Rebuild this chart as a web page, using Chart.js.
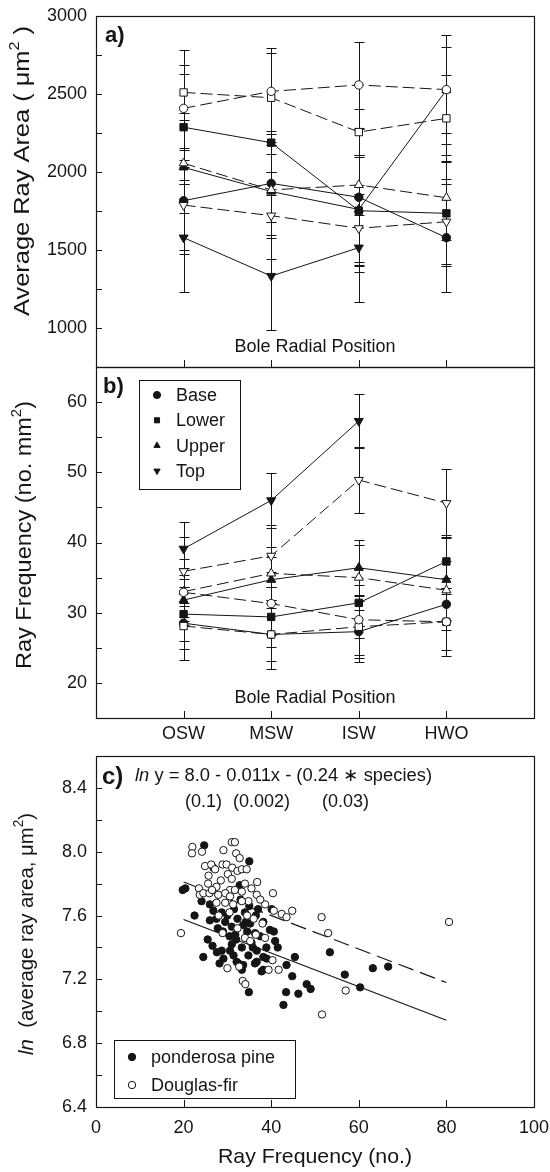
<!DOCTYPE html>
<html><head><meta charset="utf-8">
<script src="https://cdn.jsdelivr.net/npm/chart.js@4.4.1/dist/chart.umd.min.js"></script>
<style>
html,body{margin:0;padding:0;background:#fff;width:550px;height:1172px;overflow:hidden;}
.wrap{position:absolute;left:0;width:550px;}
canvas{display:block;}
</style></head><body>
<div class="wrap" style="top:0;height:369px"><canvas id="ca" width="550" height="369"></canvas></div>
<div class="wrap" style="top:355px;height:395px"><canvas id="cb" width="550" height="395"></canvas></div>
<div class="wrap" style="top:740px;height:432px"><canvas id="cc" width="550" height="432"></canvas></div>
<script>
// ---------- DATA ----------
const categories = ['OSW', 'MSW', 'ISW', 'HWO'];
const groups = ['Base', 'Lower', 'Upper', 'Top'];
const species = ['ponderosa pine', 'Douglas-fir'];

// Panel a: average ray area (µm²); pine = filled/solid, fir = open/dashed
const areaBasePine  = [1816, 1927, 1838, 1579];
const areaLowerPine = [2287, 2188, 1752, 1735];
const areaUpperPine = [2030, 1875, 1760, 2525];
const areaTopPine   = [1579, 1333, 1515, null];
const areaBaseFir   = [2408, 2517, 2558, 2528];
const areaLowerFir  = [2510, 2476, 2256, 2344];
const areaUpperFir  = [2056, 1885, 1917, 1835];
const areaTopFir    = [1788, 1720, 1639, 1681];
const areaBasePineErr  = [340, 75, 435, 346];
const areaLowerPineErr = [340, 75, 357, 338];
const areaUpperPineErr = [110, 296, 335, 278];
const areaTopPineErr   = [346, 346, 346, null];
const areaBaseFirErr   = [375, 276, 278, 350];
const areaLowerFirErr  = [175, 284, 150, 278];
const areaUpperFirErr  = [320, 289, 190, 273];
const areaTopFirErr    = [290, 278, 278, 272];

// Panel b: ray frequency (no. mm²)
const freqBasePine  = [28.5, 26.9, 27.3, 31.2];
const freqLowerPine = [29.8, 29.4, 31.4, 37.3];
const freqUpperPine = [31.8, 34.7, 36.4, 34.7];
const freqTopPine   = [39.1, 46.0, 57.3, null];
const freqBaseFir   = [32.9, 31.3, 29.0, 28.7];
const freqLowerFir  = [28.1, 26.9, 28.0, 28.7];
const freqUpperFir  = [33.0, 35.6, 35.0, 33.2];
const freqTopFir    = [35.9, 38.1, 48.9, 45.6];
const freqBasePineErr  = [5.2, 4.9, 4.3, 3.7];
const freqLowerPineErr = [3.8, 4.3, 5.0, 3.8];
const freqUpperPineErr = [3.0, 3.3, 3.9, 5.9];
const freqTopPineErr   = [3.8, 3.9, 3.8, null];
const freqBaseFirErr   = [3.5, 4.5, 5.0, 4.0];
const freqLowerFirErr  = [3.3, 3.8, 4.4, 4.8];
const freqUpperFirErr  = [4.7, 3.8, 4.6, 4.2];
const freqTopFirErr    = [4.9, 4.4, 4.7, 4.8];

// Panel c: scatter of ln(average ray area) vs ray frequency
const pineFreq = [24.7,35.0,26.8,32.8,19.8,20.4,24.1,26.0,22.5,26.8,28.7,40.1,26.0,27.5,29.5,31.0,32.3,33.6,35.2,36.3,38.2,39.7,40.6,26.6,28.7,31.0,33.3,34.8,36.7,38.9,40.9,24.5,29.1,32.1,33.6,36.7,38.2,43.5,45.4,44.8,34.9,43.4,46.2,48.1,49.0,42.8,53.4,56.8,60.3,63.2,66.7,27.6,31.4,32.5,33.3,36.3,37.8,38.2,30.5,32.0,34.5,35.5,37.5,30.0,34.0,36.5,25.5,29.0,33.0,35.0,31.5,37.0,30.6,27.8,35.8,39.0,31.8,41.5,28.2,34.2];
const pineLnArea = [8.04,7.94,7.90,7.79,7.76,7.77,7.69,7.67,7.60,7.63,7.62,7.64,7.57,7.58,7.56,7.53,7.58,7.54,7.55,7.49,7.56,7.51,7.50,7.41,7.38,7.42,7.40,7.35,7.38,7.40,7.44,7.34,7.33,7.31,7.29,7.31,7.26,7.29,7.34,7.22,7.12,7.12,7.11,7.17,7.14,7.04,7.37,7.23,7.15,7.27,7.28,7.37,7.35,7.30,7.26,7.30,7.25,7.34,7.47,7.45,7.50,7.43,7.47,7.60,7.62,7.60,7.45,7.50,7.70,7.66,7.64,7.64,7.38,7.52,7.40,7.33,7.48,7.40,7.30,7.56];
const firFreq = [22.0,21.9,24.2,29.1,31.0,31.7,32.0,32.8,24.9,26.3,27.2,28.9,29.8,30.1,31.1,32.3,33.3,34.4,25.7,36.8,25.6,27.5,23.5,30.6,23.7,24.5,25.9,27.9,29.5,30.6,31.7,33.3,34.8,36.7,40.4,27.5,29.5,31.3,33.3,38.6,40.6,42.4,43.5,44.8,51.5,53.0,19.4,80.6,28.9,32.3,34.0,35.2,36.5,38.6,30.0,32.7,39.4,41.7,40.3,33.5,34.1,57.0,51.6,30.5,34.5,36.0,28.0,38.0,31.0,28.5,34.0,26.5,35.5,37.5];
const firLnArea = [8.03,7.99,8.00,8.01,8.06,8.06,7.99,7.96,7.91,7.92,7.89,7.92,7.92,7.86,7.90,7.88,7.89,7.89,7.85,7.81,7.80,7.78,7.77,7.76,7.73,7.74,7.74,7.73,7.74,7.72,7.76,7.75,7.69,7.73,7.74,7.68,7.68,7.67,7.69,7.67,7.63,7.61,7.59,7.63,7.59,7.49,7.49,7.56,7.49,7.52,7.46,7.44,7.48,7.46,7.27,7.28,7.26,7.26,7.32,7.19,7.17,7.13,6.98,7.62,7.60,7.58,7.60,7.55,7.83,7.82,7.80,7.76,7.77,7.70];
const fitFreq = [20, 80];
const fitPine = [7.575, 6.944];
const fitFir  = [7.81, 7.18];

// ---------- STYLE ----------
const INK = '#151515';
Chart.defaults.font.family = "'Liberation Sans', Arial, sans-serif";
Chart.defaults.font.size = 18;
Chart.defaults.color = INK;
const F = (s, w, st) => (st ? st + ' ' : '') + (w ? w + ' ' : '') + s + "px 'Liberation Sans', Arial, sans-serif";
const marker = {
  Base:  {style: 'circle',   rot: 0,   r: 4.2},
  Lower: {style: 'rect',     rot: 0,   r: 5.2},
  Upper: {style: 'triangle', rot: 0,   r: 5.2},
  Top:   {style: 'triangle', rot: 180, r: 5.2}
};

function series(values, errors, group, filled) {
  const m = marker[group];
  return {
    label: group + ' ' + (filled ? species[0] : species[1]),
    data: values.map((v, i) => ({x: i + 1, y: v})),
    errors: errors,
    borderColor: INK, borderWidth: 1, borderDash: filled ? [] : [12, 5],
    pointStyle: m.style, pointRotation: m.rot, pointRadius: m.r,
    pointBackgroundColor: filled ? INK : '#fff', pointBorderColor: INK, pointBorderWidth: 1,
    tension: 0, spanGaps: false, fill: false, order: filled ? 2 : 1
  };
}

const errorBars = {
  id: 'errbars',
  beforeDatasetsDraw(chart) {
    const ctx = chart.ctx, xs = chart.scales.x, ys = chart.scales.y;
    ctx.save(); ctx.strokeStyle = INK; ctx.lineWidth = 1; ctx.setLineDash([]);
    chart.data.datasets.forEach(ds => {
      if (!ds.errors) return;
      ds.data.forEach((p, i) => {
        const e = ds.errors[i];
        if (p.y == null || e == null) return;
        const x = Math.round(xs.getPixelForValue(p.x)) + 0.5;
        const yt = Math.round(ys.getPixelForValue(p.y + e)) + 0.5;
        const yb = Math.round(ys.getPixelForValue(p.y - e)) + 0.5;
        ctx.beginPath();
        ctx.moveTo(x, yt); ctx.lineTo(x, yb);
        ctx.moveTo(x - 5, yt); ctx.lineTo(x + 5, yt);
        ctx.moveTo(x - 5, yb); ctx.lineTo(x + 5, yb);
        ctx.stroke();
      });
    });
    ctx.restore();
  }
};

const frame = {
  id: 'frame',
  afterDraw(chart) {
    const ctx = chart.ctx, a = chart.chartArea, xs = chart.scales.x, ys = chart.scales.y;
    ctx.save(); ctx.strokeStyle = INK; ctx.lineWidth = 1.2; ctx.setLineDash([]);
    ctx.strokeRect(Math.round(a.left) + 0.5, Math.round(a.top) + 0.5, Math.round(a.right - a.left), Math.round(a.bottom - a.top));
    ctx.lineWidth = 1;
    ctx.beginPath();
    const eps = 1e-6;
    ys.ticks.forEach(t => {
      if (t.value <= ys.min + eps || t.value >= ys.max - eps) return;
      const y = Math.round(ys.getPixelForValue(t.value)) + 0.5;
      ctx.moveTo(a.left, y); ctx.lineTo(a.left + 6, y);
    });
    xs.ticks.forEach(t => {
      if (t.value <= xs.min + eps || t.value >= xs.max - eps) return;
      const x = Math.round(xs.getPixelForValue(t.value)) + 0.5;
      ctx.moveTo(x, a.bottom); ctx.lineTo(x, a.bottom - 7);
    });
    ctx.stroke(); ctx.restore();
  }
};

function drawRich(ctx, it) {
  ctx.save();
  ctx.translate(it.x, it.y);
  if (it.rot) ctx.rotate(it.rot);
  ctx.fillStyle = INK;
  ctx.textBaseline = it.baseline || 'alphabetic';
  ctx.textAlign = 'left';
  let w = 0;
  it.parts.forEach(p => { ctx.font = p.font; w += ctx.measureText(p.t).width; });
  if (it.width) ctx.scale(it.width / w, 1);
  let x = it.align === 'center' ? -w / 2 : 0;
  it.parts.forEach(p => { ctx.font = p.font; ctx.fillText(p.t, x, p.dy || 0); x += ctx.measureText(p.t).width; });
  ctx.restore();
}

function drawLegend(ctx, box, entries) {
  ctx.save();
  ctx.strokeStyle = INK; ctx.lineWidth = 1; ctx.setLineDash([]);
  ctx.strokeRect(box.x + 0.5, box.y + 0.5, box.w, box.h);
  entries.forEach(e => {
    ctx.fillStyle = e.fill; ctx.strokeStyle = INK; ctx.lineWidth = 1;
    Chart.helpers.drawPoint(ctx, {pointStyle: e.style, rotation: e.rot, radius: e.r, borderWidth: 1}, box.mx, e.y);
    ctx.fillStyle = INK; ctx.font = F(18); ctx.textBaseline = 'middle'; ctx.textAlign = 'left';
    ctx.fillText(e.label, box.tx, e.y + 1);
  });
  ctx.restore();
}

function annot(fn) { return {id: 'annot', afterDraw(chart) { fn(chart.ctx); }}; }

function opts(cfg) {
  return {
    responsive: false, animation: false, events: [],
    layout: {autoPadding: false, padding: {left: 0, right: 16, top: cfg.padTop, bottom: 0}},
    plugins: {legend: {display: false}, tooltip: {enabled: false}},
    scales: {
      x: {
        type: 'linear', min: cfg.xmin, max: cfg.xmax,
        afterFit: s => { s.height = cfg.xh; s.paddingLeft = 0; s.paddingRight = 0; },
        grid: {display: false, drawTicks: false}, border: {display: false},
        ticks: {display: cfg.xlabels, stepSize: cfg.xstep, autoSkip: false, maxRotation: 0, padding: cfg.xpad, callback: cfg.xcb, font: {size: 18}}
      },
      y: {
        type: 'linear', min: cfg.ymin, max: cfg.ymax,
        afterFit: s => { s.width = 96; s.paddingTop = 0; s.paddingBottom = 0; },
        grid: {display: false, drawTicks: false}, border: {display: false},
        ticks: {stepSize: cfg.ystep, maxTicksLimit: 40, autoSkip: false, padding: 9, callback: cfg.ycb, font: {size: 18}}
      }
    }
  };
}

const catCb = v => (Number.isInteger(v) && v >= 1 && v <= 4) ? categories[v - 1] : '';

// ---------- PANEL A ----------
new Chart(document.getElementById('ca'), {
  type: 'line',
  data: {datasets: [
    series(areaBaseFir, areaBaseFirErr, 'Base', false),
    series(areaLowerFir, areaLowerFirErr, 'Lower', false),
    series(areaUpperFir, areaUpperFirErr, 'Upper', false),
    series(areaTopFir, areaTopFirErr, 'Top', false),
    series(areaBasePine, areaBasePineErr, 'Base', true),
    series(areaLowerPine, areaLowerPineErr, 'Lower', true),
    series(areaUpperPine, areaUpperPineErr, 'Upper', true),
    series(areaTopPine, areaTopPineErr, 'Top', true)
  ]},
  options: opts({padTop: 16, xh: 2, xmin: 0, xmax: 5, xstep: 1, xlabels: false, xpad: 0, xcb: catCb,
    ymin: 750, ymax: 3000, ystep: 250, ycb: v => (v % 500 === 0 && v >= 1000) ? String(v) : ''}),
  plugins: [errorBars, frame, annot(ctx => {
    drawRich(ctx, {x: 105, y: 42, parts: [{t: 'a)', font: F(22, 'bold')}]});
    drawRich(ctx, {x: 315, y: 352, align: 'center', parts: [{t: 'Bole Radial Position', font: F(18)}]});
    drawRich(ctx, {x: 23, y: 171, rot: -Math.PI / 2, align: 'center', baseline: 'middle', width: 290, parts: [
      {t: 'Average Ray Area ( \u03bcm', font: F(22)}, {t: '2', font: F(14), dy: -8}, {t: ' )', font: F(22)}]});
  })]
});

// ---------- PANEL B ----------
new Chart(document.getElementById('cb'), {
  type: 'line',
  data: {datasets: [
    series(freqBaseFir, freqBaseFirErr, 'Base', false),
    series(freqLowerFir, freqLowerFirErr, 'Lower', false),
    series(freqUpperFir, freqUpperFirErr, 'Upper', false),
    series(freqTopFir, freqTopFirErr, 'Top', false),
    series(freqBasePine, freqBasePineErr, 'Base', true),
    series(freqLowerPine, freqLowerPineErr, 'Lower', true),
    series(freqUpperPine, freqUpperPineErr, 'Upper', true),
    series(freqTopPine, freqTopPineErr, 'Top', true)
  ]},
  options: opts({padTop: 12, xh: 32, xmin: 0, xmax: 5, xstep: 1, xlabels: true, xpad: 5, xcb: catCb,
    ymin: 15, ymax: 65, ystep: 5, ycb: v => (v % 10 === 0 && v >= 20 && v <= 60) ? String(v) : ''}),
  plugins: [errorBars, frame, annot(ctx => {
    drawRich(ctx, {x: 103, y: 38, parts: [{t: 'b)', font: F(22, 'bold')}]});
    drawRich(ctx, {x: 315, y: 348, align: 'center', parts: [{t: 'Bole Radial Position', font: F(18)}]});
    drawRich(ctx, {x: 25, y: 180, rot: -Math.PI / 2, align: 'center', baseline: 'middle', width: 268, parts: [
      {t: 'Ray Frequency (no. mm', font: F(22)}, {t: '2', font: F(14), dy: -8}, {t: ')', font: F(22)}]});
    drawLegend(ctx, {x: 139, y: 25, w: 101, h: 109, mx: 157, tx: 176},
      groups.map((g, i) => ({label: g, style: marker[g].style, rot: marker[g].rot, r: 3.6, fill: INK, y: 40 + i * 25.3})));
  })]
});

// ---------- PANEL C ----------
new Chart(document.getElementById('cc'), {
  type: 'scatter',
  data: {datasets: [
    {label: species[1], data: firFreq.map((x, i) => ({x, y: firLnArea[i]})), pointStyle: 'circle', pointRadius: 3.7,
      pointBackgroundColor: '#fff', pointBorderColor: INK, pointBorderWidth: 1, order: 1},
    {label: species[0], data: pineFreq.map((x, i) => ({x, y: pineLnArea[i]})), pointStyle: 'circle', pointRadius: 3.7,
      pointBackgroundColor: INK, pointBorderColor: INK, pointBorderWidth: 1, order: 2},
    {label: 'fit ' + species[1], data: fitFreq.map((x, i) => ({x, y: fitFir[i]})), showLine: true, pointRadius: 0,
      borderColor: INK, borderWidth: 1.2, borderDash: [16, 7], order: 3},
    {label: 'fit ' + species[0], data: fitFreq.map((x, i) => ({x, y: fitPine[i]})), showLine: true, pointRadius: 0,
      borderColor: INK, borderWidth: 1.2, order: 4}
  ]},
  options: opts({padTop: 16, xh: 65, xmin: 0, xmax: 100, xstep: 20, xlabels: true, xpad: 10, xcb: v => String(v),
    ymin: 6.4, ymax: 8.6, ystep: 0.2, ycb: v => { const k = Math.round(v * 10); return (k % 4 === 0 && k <= 84) ? (k / 10).toFixed(1) : ''; }}),
  plugins: [frame, annot(ctx => {
    drawRich(ctx, {x: 102, y: 44, parts: [{t: 'c', font: F(24, 'bold')}, {t: ')', font: F(24, 'bold')}]});
    drawRich(ctx, {x: 135, y: 41, width: 297, parts: [{t: 'ln', font: F(18, '', 'italic')}, {t: ' y = 8.0 - 0.011x - (0.24 \u2217 species)', font: F(18)}]});
    drawRich(ctx, {x: 185, y: 67, parts: [{t: '(0.1)', font: F(18)}]});
    drawRich(ctx, {x: 233, y: 67, parts: [{t: '(0.002)', font: F(18)}]});
    drawRich(ctx, {x: 322, y: 67, parts: [{t: '(0.03)', font: F(18)}]});
    drawRich(ctx, {x: 27, y: 194, rot: -Math.PI / 2, align: 'center', baseline: 'middle', width: 242, parts: [
      {t: 'ln', font: F(21, '', 'italic')}, {t: '  (average ray area, \u03bcm', font: F(21)}, {t: '2', font: F(14), dy: -8}, {t: ')', font: F(21)}]});
    drawRich(ctx, {x: 315, y: 423, align: 'center', width: 194, parts: [{t: 'Ray Frequency (no.)', font: F(21)}]});
    drawLegend(ctx, {x: 114, y: 300, w: 181, h: 58, mx: 132, tx: 151},
      [{label: species[0], style: 'circle', rot: 0, r: 3.7, fill: INK, y: 317},
       {label: species[1], style: 'circle', rot: 0, r: 3.7, fill: '#fff', y: 345}]);
  })]
});
</script>
</body></html>
